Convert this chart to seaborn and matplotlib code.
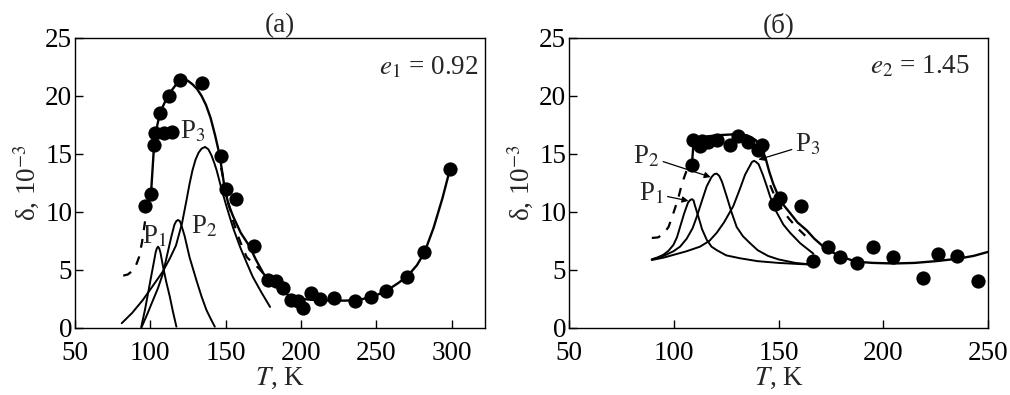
import numpy as np
import pandas as pd
import matplotlib
matplotlib.use("Agg")
import matplotlib.pyplot as plt
import seaborn as sns

# ---------------- data: panel (a) ----------------
a_pts_T = [96.7, 100.4, 102.2, 103.3, 106.7, 108.9, 112.2, 114.4, 119.6, 134.4, 146.7, 150.0,
           156.7, 168.9, 177.8, 183.3, 187.8, 193.3, 197.8, 201.1, 206.7, 212.9, 221.8, 236.0,
           246.7, 256.7, 270.7, 281.8, 298.9]
a_pts_d = [10.5, 11.5, 15.8, 16.8, 18.5, 16.8, 20.0, 16.9, 21.4, 21.1, 14.8, 11.95,
           11.1, 7.07, 4.14, 4.0, 3.4, 2.4, 2.3, 1.7, 3.0, 2.5, 2.6, 2.3,
           2.7, 3.2, 4.4, 6.5, 13.7]

a_main_T = [96.7, 100.4, 102.5, 104, 106.5, 112, 119.5, 122, 125, 128, 131, 134, 137, 140,
            143, 146, 149.5, 152, 155, 160, 166, 170, 175, 180, 186, 192, 199, 210, 220, 230,
            240, 250, 258, 265, 271, 277, 282, 288, 294, 299]
a_main_d = [10.5, 11.5, 15.8, 17.1, 18.6, 20.1, 21.4, 21.45, 21.3, 21.0, 20.6, 20.0, 19.2, 18.1,
            16.6, 14.9, 11.9, 10.6, 9.6, 8.2, 7.0, 5.9, 4.7, 3.9, 3.3, 2.8, 2.5, 2.4, 2.35, 2.35,
            2.45, 2.8, 3.3, 3.9, 4.5, 5.4, 6.5, 8.6, 11.2, 13.7]

a_p1_T = [94, 96.5, 98.5, 100.2, 101.8, 103.5, 104.3, 105.1, 105.9, 106.7, 108.4, 110.5,
          112.9, 115, 117.3]
a_p1_d = [0.1, 1.6, 3.0, 4.2, 5.3, 6.5, 6.85, 7.0, 6.85, 6.5, 5.3, 4.0, 2.7, 1.4, 0.1]

a_p2_T = [94, 98, 101.8, 105, 108.4, 111, 114, 116, 117.2, 118.4, 119.6, 120.5, 122.8, 126,
          130.6, 134, 137.2, 140, 142.8]
a_p2_d = [0.0, 1.2, 2.4, 3.4, 4.7, 6.2, 7.9, 8.9, 9.2, 9.3, 9.2, 8.9, 7.9, 6.1,
          4.1, 2.7, 1.55, 0.8, 0.1]

a_p3_T = [81, 88, 95, 101, 108, 113, 117, 121, 124, 126, 128, 130, 132, 134, 136.3, 138.5,
          140.5, 142.5, 144, 147, 150.5, 155, 159.5, 164, 168, 174, 179.5]
a_p3_d = [0.4, 1.3, 2.4, 3.5, 4.8, 6.0, 7.1, 9.0, 11.0, 12.4, 13.6, 14.5, 15.1, 15.45, 15.6,
          15.4, 14.9, 14.2, 13.6, 12.1, 10.5, 8.6, 7.0, 5.6, 4.4, 3.0, 1.8]

a_dashA_T = [82, 85, 88, 90.5, 92.5, 94.5, 96.5]
a_dashA_d = [4.5, 4.6, 4.9, 5.4, 6.1, 7.4, 9.2]
a_dashB_T = [147, 151, 155, 158, 161, 164, 168, 171.5, 175]
a_dashB_d = [13.8, 11.2, 9.2, 8.0, 7.0, 6.1, 5.6, 5.2, 4.7]

# ---------------- data: panel (б) ----------------
b_pts_T = [108.6, 109.3, 112.5, 113.3, 116.5, 120.5, 126.9, 130.8, 135.6, 140.4, 142.0,
           148.3, 150.7, 160.7, 166.3, 173.8, 179.4, 187.3, 195.3, 204.5, 219.1, 226.3,
           235.0, 245.4]
b_pts_d = [14.0, 16.2, 15.7, 16.1, 16.0, 16.2, 15.8, 16.55, 16.0, 15.3, 15.8,
           10.7, 11.2, 10.5, 5.8, 7.0, 6.15, 5.6, 7.0, 6.15, 4.3, 6.4,
           6.2, 4.05]

b_main_T = [108.6, 109.5, 112, 116, 120, 125, 130, 135, 139, 141, 142.5, 144, 145.5, 147.5,
            151, 155.5, 159, 163.5, 167, 171.4, 175, 179.4, 187.3, 195, 205, 215, 225, 235,
            243, 250]
b_main_d = [14.0, 16.1, 16.4, 16.5, 16.6, 16.65, 16.7, 16.6, 16.2, 15.8, 15.3, 14.5, 13.5, 12.4,
            10.9, 9.9, 9.1, 8.4, 7.7, 7.0, 6.6, 6.15, 5.7, 5.6, 5.55, 5.6, 5.75, 5.95,
            6.2, 6.55]

b_p1_T = [89.5, 92, 95, 97.5, 99.8, 101.5, 103, 105, 106.8, 107.7, 108.6, 109.4, 110, 111.7,
          113.5, 115.7, 118, 120.5, 125, 131.6, 140, 150, 160, 166.5]
b_p1_d = [5.9, 6.05, 6.3, 6.65, 7.15, 7.8, 8.7, 9.9, 10.8, 11.0, 11.1, 11.0, 10.6, 9.6,
          8.5, 7.6, 7.0, 6.7, 6.25, 6.0, 5.75, 5.6, 5.5, 5.45]

b_p2_T = [89.5, 95, 99.8, 103, 106.2, 109, 111, 113.5, 115.7, 118, 119.3, 120.5, 121.7, 123,
          125.3, 127.5, 130, 133, 136.4, 140, 145, 150, 158, 166.5]
b_p2_d = [5.9, 6.2, 6.6, 7.0, 7.7, 8.6, 9.6, 11.0, 12.2, 13.0, 13.25, 13.3, 13.1, 12.6,
          11.3, 10.0, 8.7, 7.9, 7.3, 6.7, 6.2, 5.9, 5.6, 5.45]

b_p3_T = [89.5, 95, 100, 106, 112.5, 117, 120.5, 124, 128.4, 131.6, 134, 136.4, 137.3, 138.3,
          139.3, 140.5, 142.5, 144.4, 146, 149, 152.3, 155.5, 160.3, 166.6]
b_p3_d = [5.85, 6.05, 6.3, 6.6, 7.0, 7.5, 8.2, 9.1, 10.5, 12.0, 13.2, 14.0, 14.3, 14.4,
          14.3, 14.1, 13.2, 12.2, 11.3, 10.0, 8.9, 8.2, 7.3, 6.4]

b_dashA_T = [89.5, 92.5, 95, 97.5, 100, 102, 104, 106, 107.5]
b_dashA_d = [7.75, 7.8, 8.1, 8.7, 10.0, 11.1, 12.5, 13.5, 14.0]
b_dashB_T = [146, 149, 152, 155.5, 159, 163]
b_dashB_d = [12.3, 11.0, 10.1, 9.3, 8.6, 7.9]

xticks_a = [50, 100, 150, 200, 250, 300]
xticks_b = [50, 100, 150, 200, 250]
yticks = [0, 5, 10, 15, 20, 25]

# ---------------- style ----------------
sns.set_style("ticks")
plt.rcParams['font.family'] = ['Liberation Serif', 'DejaVu Serif']
plt.rcParams['mathtext.fontset'] = 'stix'
FS = 19.5
plt.rcParams['font.size'] = FS

fig = plt.figure(figsize=(10.1, 3.95), dpi=100)
axA = fig.add_axes([0.0743, 0.170, 0.4056, 0.734])
axB = fig.add_axes([0.5634, 0.170, 0.4149, 0.734])

K = 'black'


def line(ax, T, d, lw=1.5, ls='-'):
    df = pd.DataFrame({'T': T, 'd': d})
    sns.lineplot(data=df, x='T', y='d', ax=ax, color=K, lw=lw, linestyle=ls,
                 estimator=None, sort=False)


def pts(ax, T, d):
    df = pd.DataFrame({'T': T, 'd': d})
    sns.scatterplot(data=df, x='T', y='d', ax=ax, color=K, s=105, edgecolor=K,
                    linewidth=0, zorder=5)


# panel (a)
line(axA, a_main_T, a_main_d, lw=1.7)
line(axA, a_p1_T, a_p1_d, lw=1.4)
line(axA, a_p2_T, a_p2_d, lw=1.4)
line(axA, a_p3_T, a_p3_d, lw=1.4)
line(axA, a_dashA_T, a_dashA_d, lw=1.6, ls=(0, (4, 4)))
line(axA, a_dashB_T, a_dashB_d, lw=1.6, ls=(0, (4, 4)))
pts(axA, a_pts_T, a_pts_d)

axA.text(102.5, 7.9, r"P$_1$", ha='center', va='center', fontsize=FS)
axA.text(136, 8.7, r"P$_2$", ha='center', va='center', fontsize=FS)
axA.text(128.5, 16.9, r"P$_3$", ha='center', va='center', fontsize=FS)
axA.text(318, 22.4, r"$e_1$ = 0.92", ha='right', va='center', fontsize=FS)
axA.set_xlim(50, 322)
axA.set_xticks(xticks_a)
axA.set_title("(a)", fontsize=FS, pad=3)

# panel (б)
line(axB, b_main_T, b_main_d, lw=1.7)
line(axB, b_p1_T, b_p1_d, lw=1.4)
line(axB, b_p2_T, b_p2_d, lw=1.4)
line(axB, b_p3_T, b_p3_d, lw=1.4)
line(axB, b_dashA_T, b_dashA_d, lw=1.6, ls=(0, (4, 4)))
line(axB, b_dashB_T, b_dashB_d, lw=1.6, ls=(0, (4, 4)))
pts(axB, b_pts_T, b_pts_d)

arrow = dict(arrowstyle='-|>', color=K, lw=0.9, mutation_scale=9, shrinkA=0, shrinkB=0)
axB.annotate(r"P$_1$", xy=(107, 10.95), xytext=(89.5, 11.6), ha='center', va='center',
             fontsize=FS, arrowprops=arrow)
axB.annotate(r"P$_2$", xy=(117.6, 13.0), xytext=(87, 14.8), ha='center', va='center',
             fontsize=FS, arrowprops=arrow)
axB.annotate(r"P$_3$", xy=(140.4, 14.5), xytext=(164, 15.8), ha='center', va='center',
             fontsize=FS, arrowprops=arrow)
axB.text(241.5, 22.5, r"$e_2$ = 1.45", ha='right', va='center', fontsize=FS)
axB.set_xlim(50, 250)
axB.set_xticks(xticks_b)
axB.set_title("(б)", fontsize=FS, pad=3)

for ax in (axA, axB):
    ax.set_ylim(0, 25)
    ax.set_yticks(yticks)
    ax.set_xlabel(r"$T$, K", fontsize=FS, labelpad=0)
    ax.set_ylabel(r"δ, 10$^{-3}$", fontsize=FS, labelpad=2)
    ax.tick_params(direction='in', length=6, width=1, labelsize=FS, top=False, right=False,
                   color=K, labelcolor=K)
    ax.tick_params(axis='x', pad=9.5)
    ax.tick_params(axis='y', pad=2)
    for s in ax.spines.values():
        s.set_visible(True)
        s.set_linewidth(1.0)
        s.set_color(K)

fig.savefig("out.png", dpi=100)
